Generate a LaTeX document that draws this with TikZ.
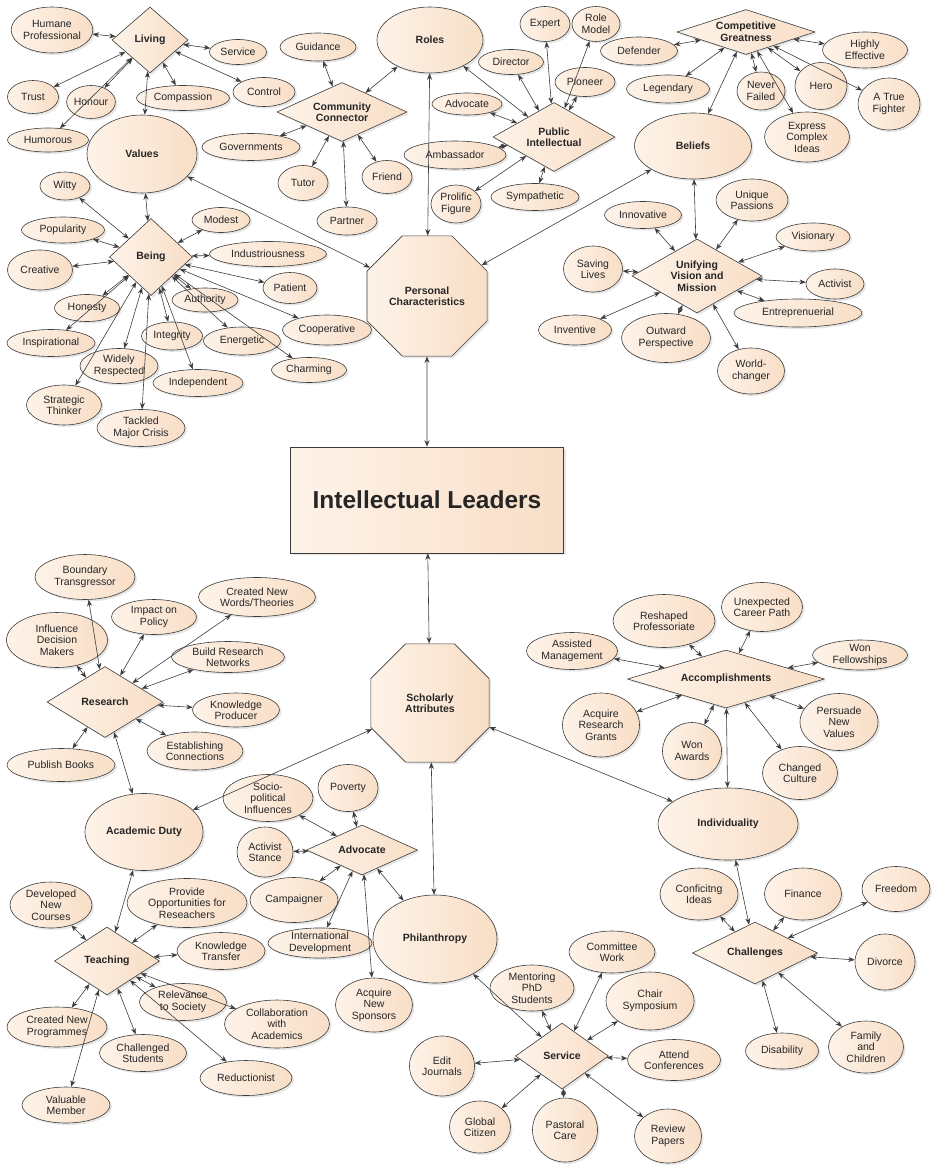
\documentclass[tikz,border=0pt]{standalone}
\usepackage{fontspec}
\setmainfont{Liberation Sans}
\usepackage{tikz}
\usetikzlibrary{shapes.geometric,arrows.meta,shadows}
\definecolor{peach}{RGB}{248,222,198}
\definecolor{peachlight}{RGB}{254,243,233}
\definecolor{linegray}{RGB}{60,60,60}

\begin{document}
\begin{tikzpicture}[x=1pt,y=-1pt,<->,>={Stealth[length=6.5pt,width=5pt]},
  sz/.style 2 args={minimum width=#1,minimum height=#2},
  plain/.style={draw=linegray,line width=0.6pt,left color=peachlight,right color=peach,
    drop shadow={shadow xshift=2pt,shadow yshift=-2pt,opacity=0.2},
    inner sep=0pt,align=center,text=black!85,font=\fontsize{10.5}{11.5}\selectfont},
  leaf/.style={plain,ellipse},
  big/.style={plain,ellipse,font=\fontsize{10.5}{11.5}\selectfont\bfseries},
  hub/.style={plain,diamond,font=\fontsize{10.5}{11.5}\selectfont\bfseries},
  octa/.style={plain,regular polygon,regular polygon sides=8,minimum size=130,
    font=\fontsize{10.5}{11.5}\selectfont\bfseries},
  link/.style={draw=linegray,line width=0.6pt}]
\useasboundingbox (0,0) rectangle (932,1166);

\node[hub,sz={76}{66},aspect=1.15] (living) at (150,40) {Living};
\node[leaf,sz={77}{46}] (humane) at (52,30) {Humane\\Professional};
\node[leaf,sz={57}{25}] (serviceV) at (238,52) {Service};
\node[leaf,sz={51}{33}] (trust) at (33,97) {Trust};
\node[leaf,sz={48}{33}] (honour) at (91,102) {Honour};
\node[leaf,sz={93}{25}] (compassion) at (183,98) {Compassion};
\node[leaf,sz={62}{29}] (control) at (264,92) {Control};
\node[leaf,sz={81}{24}] (humorous) at (48,140) {Humorous};
\node[big,sz={110}{78}] (values) at (142,154) {Values};

\node[hub,sz={83}{77},aspect=1.08] (being) at (151,257) {Being};
\node[leaf,sz={50}{28}] (witty) at (65,186) {Witty};
\node[leaf,sz={83}{26}] (popularity) at (63,230) {Popularity};
\node[leaf,sz={58}{25}] (modest) at (221,220) {Modest};
\node[leaf,sz={65}{40}] (creative) at (40,270) {Creative};
\node[leaf,sz={117}{25}] (industrious) at (268,254) {Industriousness};
\node[leaf,sz={54}{31}] (patient) at (290,288) {Patient};
\node[leaf,sz={65}{27}] (honesty) at (87,308) {Honesty};
\node[leaf,sz={66}{24}] (authority) at (205,300) {Authority};
\node[leaf,sz={88}{27}] (inspirational) at (51,343) {Inspirational};
\node[leaf,sz={61}{28}] (integrity) at (172,336) {Integrity};
\node[leaf,sz={77}{28}] (energetic) at (242,341) {Energetic};
\node[leaf,sz={89}{30}] (cooperative) at (327,330) {Cooperative};
\node[leaf,sz={78}{35}] (widely) at (119,366) {Widely\\Respected};
\node[leaf,sz={90}{27}] (independent) at (198,383) {Independent};
\node[leaf,sz={75}{25}] (charming) at (309,370) {Charming};
\node[leaf,sz={75}{40}] (strategic) at (64,405) {Strategic\\Thinker};
\node[leaf,sz={88}{37}] (tackled) at (141,428) {Tackled\\Major Crisis};

\node[hub,sz={130}{59},aspect=2.2] (commConn) at (342,112) {Community\\Connector};
\node[leaf,sz={76}{28}] (guidance) at (318,47) {Guidance};
\node[leaf,sz={98}{27}] (governments) at (251,147) {Governments};
\node[leaf,sz={50}{35}] (tutor) at (303,183) {Tutor};
\node[leaf,sz={60}{28}] (partner) at (347,221) {Partner};
\node[leaf,sz={50}{33}] (friend) at (387,177) {Friend};
\node[big,sz={106}{66}] (roles) at (430,40) {Roles};

\node[hub,sz={122}{69},aspect=1.77] (pubInt) at (554,137) {Public\\Intellectual};
\node[leaf,sz={50}{35}] (expert) at (545,24) {Expert};
\node[leaf,sz={48}{35}] (roleModel) at (596,24) {Role\\Model};
\node[leaf,sz={65}{25}] (director) at (511,62) {Director};
\node[leaf,sz={60}{29}] (pioneer) at (585,82) {Pioneer};
\node[leaf,sz={70}{22}] (advocateTop) at (467,104) {Advocate};
\node[leaf,sz={102}{28}] (ambassador) at (455,155) {Ambassador};
\node[leaf,sz={50}{38}] (prolific) at (456,204) {Prolific\\Figure};
\node[leaf,sz={88}{27}] (sympathetic) at (535,197) {Sympathetic};

\node[hub,sz={138}{45},aspect=3.07] (compGreat) at (746,32) {Competitive\\Greatness};
\node[leaf,sz={77}{28}] (defender) at (639,51) {Defender};
\node[leaf,sz={85}{36}] (highly) at (865,50) {Highly\\Effective};
\node[leaf,sz={83}{28}] (legendary) at (668,89) {Legendary};
\node[leaf,sz={48}{38}] (neverFailed) at (761,91) {Never\\Failed};
\node[leaf,sz={52}{47}] (hero) at (821,86) {Hero};
\node[leaf,sz={62}{52}] (fighter) at (889,104) {A True\\Fighter};
\node[leaf,sz={85}{50}] (expressIdeas) at (807,137) {Express\\Complex\\Ideas};
\node[big,sz={117}{66}] (beliefs) at (693,146) {Beliefs};

\node[hub,sz={130}{74},aspect=1.76] (unifying) at (697,276) {Unifying\\Vision and\\Mission};
\node[leaf,sz={72}{42}] (uniquePassions) at (752,200) {Unique\\Passions};
\node[leaf,sz={77}{27}] (innovative) at (643,215) {Innovative};
\node[leaf,sz={74}{28}] (visionary) at (813,237) {Visionary};
\node[leaf,sz={59}{46}] (savingLives) at (593,269) {Saving\\Lives};
\node[leaf,sz={58}{30}] (activist) at (835,284) {Activist};
\node[leaf,sz={128}{28}] (entrepreneurial) at (798,313) {Entreprenuerial};
\node[leaf,sz={73}{30}] (inventive) at (575,330) {Inventive};
\node[leaf,sz={89}{49}] (outward) at (666,338) {Outward\\Perspective};
\node[leaf,sz={67}{46}] (worldChanger) at (751,371) {World-\\changer};

\node[octa] (persChar) at (427,296) {Personal\\Characteristics};
\node[plain,rectangle,sz={273}{106},font=\fontsize{24.5}{28}\selectfont\bfseries] (leaders) at (427,500) {Intellectual Leaders};
\node[octa,minimum size=128] (scholarly) at (430,703) {Scholarly\\Attributes};

\node[hub,sz={116}{71},aspect=1.63] (research) at (105,702) {Research};
\node[leaf,sz={100}{45}] (boundary) at (85,577) {Boundary\\Transgressor};
\node[leaf,sz={117}{39}] (newWords) at (257,597) {Created New\\Words/Theories};
\node[leaf,sz={85}{35}] (impactPolicy) at (154,617) {Impact on\\Policy};
\node[leaf,sz={101}{55}] (influence) at (57,640) {Influence\\Decision\\Makers};
\node[leaf,sz={113}{31}] (buildNetworks) at (228,657) {Build Research\\Networks};
\node[leaf,sz={87}{34}] (knowProducer) at (236,710) {Knowledge\\Producer};
\node[leaf,sz={96}{38}] (establishing) at (195,751) {Establishing\\Connections};
\node[leaf,sz={108}{33}] (publishBooks) at (61,765) {Publish Books};

\node[hub,sz={197}{58},aspect=3.4] (accomp) at (726,679) {Accomplishments};
\node[leaf,sz={102}{53}] (reshaped) at (664,621) {Reshaped\\Professoriate};
\node[leaf,sz={81}{49}] (unexpected) at (762,607) {Unexpected\\Career Path};
\node[leaf,sz={91}{37}] (assisted) at (572,651) {Assisted\\Management};
\node[leaf,sz={95}{30}] (fellowships) at (860,655) {Won\\Fellowships};
\node[leaf,sz={77}{64}] (grants) at (601,725) {Acquire\\Research\\Grants};
\node[leaf,sz={59}{57}] (awards) at (692,751) {Won\\Awards};
\node[leaf,sz={78}{57}] (persuade) at (839,722) {Persuade\\New\\Values};
\node[leaf,sz={75}{53}] (culture) at (800,773) {Changed\\Culture};
\node[big,sz={140}{72}] (individuality) at (728,824) {Individuality};

\node[big,sz={118}{77}] (academicDuty) at (144,832) {Academic Duty};
\node[hub,sz={111}{50},aspect=2.22] (advocate) at (362,850) {Advocate};
\node[leaf,sz={90}{47}] (socio) at (268,798) {Socio-\\political\\Influences};
\node[leaf,sz={60}{47}] (poverty) at (348,788) {Poverty};
\node[leaf,sz={56}{50}] (activistStance) at (265,852) {Activist\\Stance};
\node[leaf,sz={88}{45}] (campaigner) at (294,900) {Campaigner};
\node[leaf,sz={104}{30}] (intlDev) at (320,943) {International\\Development};
\node[leaf,sz={77}{54}] (sponsors) at (374,1005) {Acquire\\New\\Sponsors};
\node[big,sz={124}{88}] (philanthropy) at (435,939) {Philanthropy};

\node[hub,sz={105}{68},aspect=1.54] (teaching) at (107,961) {Teaching};
\node[leaf,sz={82}{46}] (devCourses) at (51,905) {Developed\\New\\Courses};
\node[leaf,sz={120}{49}] (provide) at (187,903) {Provide\\Opportunities for\\Reseachers};
\node[leaf,sz={88}{37}] (knowTransfer) at (221,951) {Knowledge\\Transfer};
\node[leaf,sz={87}{37}] (relevance) at (183,1002) {Relevance\\to Society};
\node[leaf,sz={105}{48}] (collab) at (277,1024) {Collaboration\\with\\Academics};
\node[leaf,sz={100}{40}] (createdProg) at (57,1027) {Created New\\Programmes};
\node[leaf,sz={87}{37}] (challenged) at (143,1053) {Challenged\\Students};
\node[leaf,sz={92}{35}] (reductionist) at (246,1078) {Reductionist};
\node[leaf,sz={88}{36}] (valuable) at (66,1105) {Valuable\\Member};

\node[hub,sz={93}{66},aspect=1.41] (service) at (562,1056) {Service};
\node[leaf,sz={86}{42}] (committee) at (612,952) {Committee\\Work};
\node[leaf,sz={84}{46}] (mentoring) at (532,988) {Mentoring\\PhD\\Students};
\node[leaf,sz={88}{58}] (chair) at (650,1001) {Chair\\Symposium};
\node[leaf,sz={65}{60}] (editJournals) at (442,1066) {Edit\\Journals};
\node[leaf,sz={93}{41}] (attend) at (674,1060) {Attend\\Conferences};
\node[leaf,sz={61}{52}] (globalCitizen) at (480,1127) {Global\\Citizen};
\node[leaf,sz={65}{64}] (pastoral) at (565,1130) {Pastoral\\Care};
\node[leaf,sz={67}{54}] (review) at (668,1136) {Review\\Papers};

\node[hub,sz={125}{62},aspect=2.0] (challenges) at (755,953) {Challenges};
\node[leaf,sz={78}{52}] (conflicting) at (699,894) {Conficitng\\Ideas};
\node[leaf,sz={77}{52}] (finance) at (803,894) {Finance};
\node[leaf,sz={68}{45}] (freedom) at (896,889) {Freedom};
\node[leaf,sz={60}{56}] (divorce) at (885,962) {Divorce};
\node[leaf,sz={73}{36}] (disability) at (782,1051) {Disability};
\node[leaf,sz={75}{52}] (family) at (866,1047) {Family\\and\\Children};

\foreach \n in {humane,serviceV,trust,honour,compassion,control,humorous,values}
  \draw[link] (living) -- (\n);
\foreach \n in {values,witty,popularity,modest,creative,industrious,patient,honesty,authority,
    inspirational,integrity,energetic,cooperative,widely,independent,charming,strategic,tackled}
  \draw[link] (being) -- (\n);
\foreach \n in {guidance,roles,governments,tutor,partner,friend}
  \draw[link] (commConn) -- (\n);
\foreach \n in {roles,director,expert,roleModel,pioneer,advocateTop,ambassador,prolific,sympathetic}
  \draw[link] (pubInt) -- (\n);
\foreach \n in {defender,highly,legendary,neverFailed,hero,fighter,expressIdeas,beliefs}
  \draw[link] (compGreat) -- (\n);
\foreach \n in {beliefs,innovative,uniquePassions,visionary,savingLives,activist,entrepreneurial,
    inventive,outward,worldChanger}
  \draw[link] (unifying) -- (\n);
\foreach \n in {values,roles,beliefs,leaders}
  \draw[link] (persChar) -- (\n);
\foreach \n in {leaders,academicDuty,philanthropy,individuality}
  \draw[link] (scholarly) -- (\n);
\foreach \n in {boundary,newWords,impactPolicy,influence,buildNetworks,knowProducer,establishing,
    publishBooks,academicDuty}
  \draw[link] (research) -- (\n);
\foreach \n in {academicDuty,devCourses,provide,knowTransfer,relevance,collab,createdProg,
    challenged,reductionist,valuable}
  \draw[link] (teaching) -- (\n);
\foreach \n in {socio,poverty,activistStance,campaigner,intlDev,sponsors,philanthropy}
  \draw[link] (advocate) -- (\n);
\foreach \n in {philanthropy,mentoring,committee,chair,editJournals,attend,globalCitizen,pastoral,review}
  \draw[link] (service) -- (\n);
\foreach \n in {reshaped,unexpected,assisted,fellowships,grants,awards,persuade,culture,individuality}
  \draw[link] (accomp) -- (\n);
\foreach \n in {individuality,conflicting,finance,freedom,divorce,disability,family}
  \draw[link] (challenges) -- (\n);
\end{tikzpicture}
\end{document}
